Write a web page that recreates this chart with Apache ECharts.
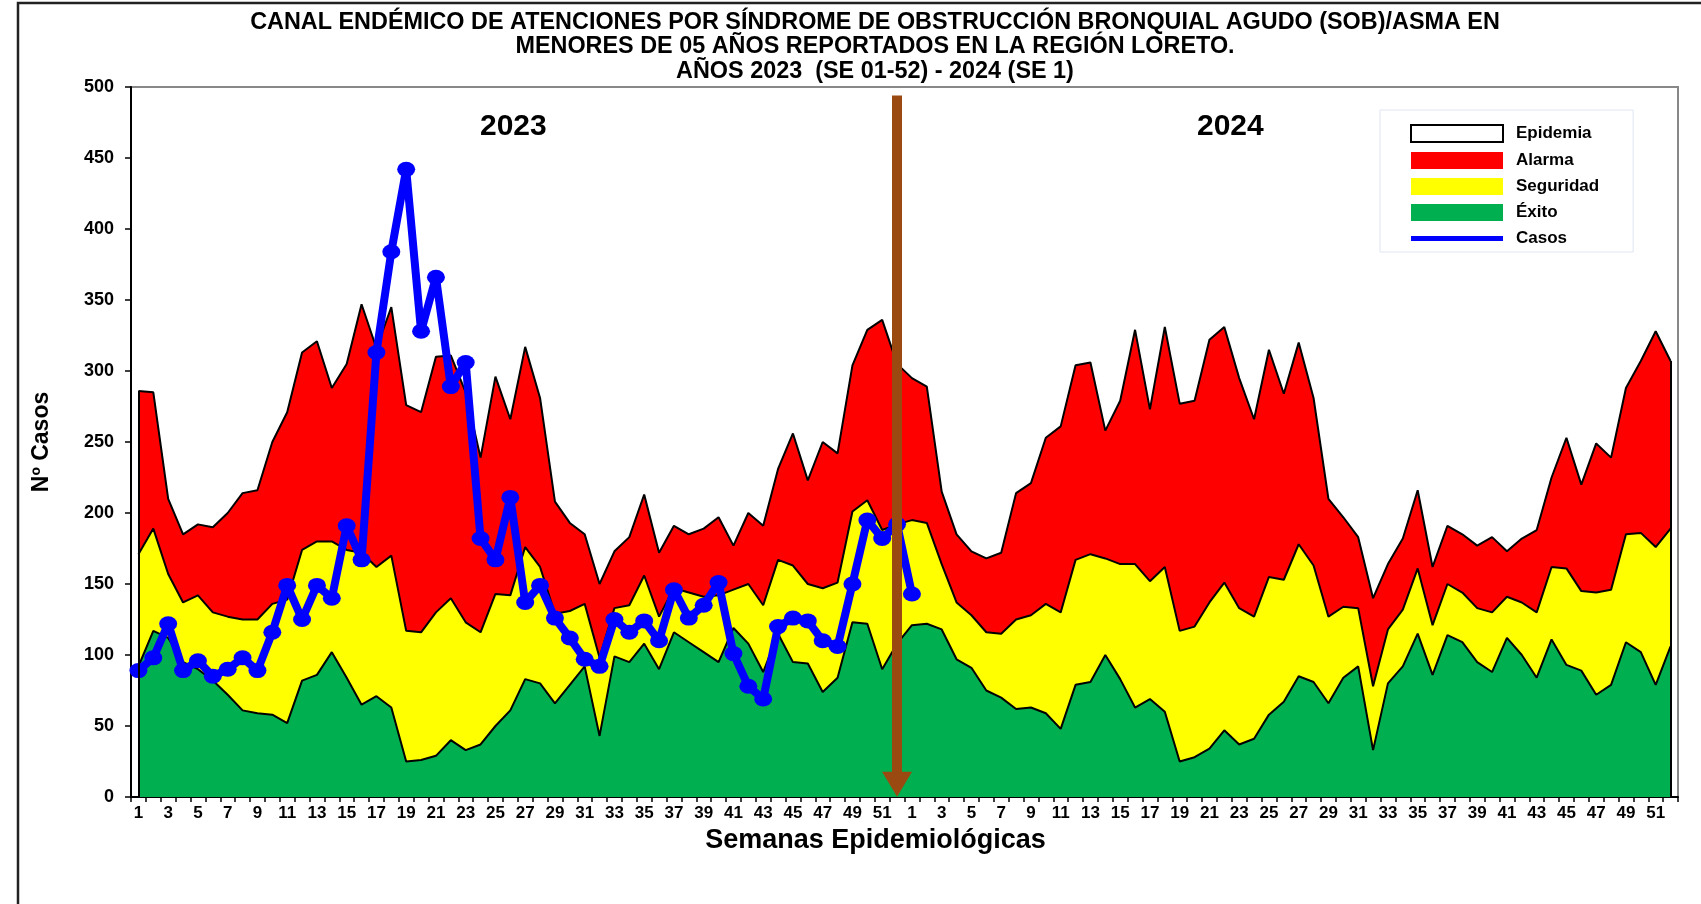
<!DOCTYPE html>
<html>
<head>
<meta charset="utf-8">
<script src="https://cdn.jsdelivr.net/npm/echarts@6/dist/echarts.min.js"></script>
<style>
  html, body { margin: 0; padding: 0; background: #fff; }
  #chart { width: 1701px; height: 904px; }
</style>
</head>
<body>
<div id="chart"></div>
<script>
// semanas epidemiologicas (se repiten para 2023 y 2024)
var semanas = [1, 2, 3, 4, 5, 6, 7, 8, 9, 10, 11, 12, 13, 14, 15, 16, 17, 18, 19, 20, 21, 22, 23, 24, 25, 26,
  27, 28, 29, 30, 31, 32, 33, 34, 35, 36, 37, 38, 39, 40, 41, 42, 43, 44, 45, 46, 47, 48, 49, 50, 51, 52];

// limite superior de cada zona (canal endemico)
var alarma2023 = [286, 285, 210, 185, 192, 190, 200, 214, 216, 250, 271, 313, 321, 288, 305, 347, 316, 345, 276, 271, 310, 311, 285, 239, 296, 266,
  317, 281, 208, 193, 185, 150, 173, 183, 213, 172, 191, 185, 189, 197, 177, 200, 191, 231, 256, 223, 250, 242, 304, 329, 336, 305];
var alarma2024 = [295, 289, 215, 185, 173, 168, 172, 214, 221, 253, 261, 304, 306, 258, 279, 329, 273, 331, 277, 279, 322, 331, 295, 266, 315, 284,
  320, 281, 210, 197, 183, 140, 164, 182, 216, 162, 191, 185, 177, 183, 173, 182, 188, 225, 253, 220, 249, 239, 288, 307, 328, 307];

var seguridad2023 = [171, 189, 157, 137, 142, 130, 127, 125, 125, 136, 139, 174, 180, 180, 174, 172, 162, 170, 117, 116, 130, 140, 123, 116, 143, 142,
  176, 162, 129, 131, 136, 98, 133, 135, 156, 127, 147, 144, 141, 142, 146, 150, 135, 167, 163, 150, 147, 151, 201, 209, 188, 192];
var seguridad2024 = [195, 193, 164, 137, 128, 116, 115, 125, 128, 136, 130, 167, 171, 168, 164, 164, 152, 162, 117, 120, 137, 151, 133, 127, 155, 153,
  178, 163, 127, 134, 133, 78, 118, 132, 161, 121, 150, 144, 133, 130, 141, 137, 130, 162, 161, 145, 144, 146, 185, 186, 176, 189];

var exito2023 = [92, 117, 112, 95, 90, 82, 72, 61, 59, 58, 52, 82, 86, 102, 84, 65, 71, 63, 25, 26, 29, 40, 33, 37, 50, 61,
  83, 80, 66, 79, 92, 43, 99, 95, 108, 90, 116, 109, 102, 95, 119, 108, 88, 115, 95, 94, 74, 84, 123, 122, 90, 108];
var exito2024 = [121, 122, 118, 97, 91, 75, 70, 62, 63, 59, 48, 79, 81, 100, 83, 63, 69, 60, 25, 28, 34, 47, 37, 41, 58, 67,
  85, 81, 66, 84, 92, 33, 80, 92, 115, 86, 114, 109, 95, 88, 112, 100, 84, 111, 93, 89, 72, 79, 109, 102, 79, 106];

// casos 2023 SE 1-52 y 2024 SE 1
var casos = [89, 98, 122, 89, 96, 85, 90, 98, 89, 116, 149, 125, 149, 140, 191, 167, 313, 384, 442, 328, 366, 289, 306, 182, 167, 211,
  137, 149, 126, 112, 97, 92, 125, 116, 124, 110, 146, 126, 135, 151, 101, 78, 69, 120, 126, 124, 110, 106, 150, 195, 182, 192, 143];

var yTicks = [0, 50, 100, 150, 200, 250, 300, 350, 400, 450, 500];

// flecha: semana 52 de 2023
var flechaSemana = 51;
var flechaTope = 494;
var flechaPunta = 9;

var categorias = semanas.concat(semanas).map(String);
var alarma = alarma2023.concat(alarma2024);
var seguridad = seguridad2023.concat(seguridad2024);
var exito = exito2023.concat(exito2024);
var ultimo = categorias.length - 1;

var fuente = "'Liberation Sans', Arial, sans-serif";

var chart = echarts.init(document.getElementById("chart"));

function area(name, data, color) {
  return {
    name: name,
    type: "line",
    data: data,
    showSymbol: false,
    symbol: "none",
    lineStyle: { color: "#000", width: 2 },
    itemStyle: { color: color },
    areaStyle: { color: color, opacity: 1 },
    emphasis: { disabled: true },
    silent: true
  };
}

var alarmaSerie = area("Alarma", alarma, "#FF0000");
// bordes verticales del canal
alarmaSerie.markLine = {
  silent: true,
  symbol: "none",
  label: { show: false },
  lineStyle: { color: "#000", width: 2, type: "solid" },
  data: [
    [{ coord: [0, 0] }, { coord: [0, alarma[0]] }],
    [{ coord: [ultimo, 0] }, { coord: [ultimo, alarma[ultimo]] }]
  ]
};

var option = {
  animation: false,
  backgroundColor: "#fff",
  title: {
    text: "CANAL ENDÉMICO DE ATENCIONES POR SÍNDROME DE OBSTRUCCIÓN BRONQUIAL AGUDO (SOB)/ASMA EN\nMENORES DE 05 AÑOS REPORTADOS EN LA REGIÓN LORETO.\nAÑOS 2023  (SE 01-52) - 2024 (SE 1)",
    left: 875,
    top: 10,
    textAlign: "center",
    padding: 0,
    textStyle: {
      fontFamily: fuente,
      fontWeight: "bold",
      fontSize: 23.4,
      lineHeight: 24.5,
      color: "#000"
    }
  },
  legend: {
    orient: "vertical",
    left: 1380,
    top: 110,
    padding: [14, 34, 5, 30],
    backgroundColor: "#fff",
    borderColor: "#dfe5f1",
    borderWidth: 1,
    itemWidth: 92,
    itemHeight: 17,
    itemGap: 9,
    selectedMode: false,
    textStyle: {
      fontFamily: fuente,
      fontWeight: "bold",
      fontSize: 17,
      lineHeight: 17,
      color: "#000",
      padding: [0, 0, 0, 8]
    },
    data: [
      { name: "Epidemia", icon: "rect", itemStyle: { color: "#fff", borderColor: "#000", borderWidth: 2 } },
      { name: "Alarma", icon: "rect", itemStyle: { color: "#FF0000", borderWidth: 0 } },
      { name: "Seguridad", icon: "rect", itemStyle: { color: "#FFFF00", borderWidth: 0 } },
      { name: "Éxito", icon: "rect", itemStyle: { color: "#00B050", borderWidth: 0 } },
      { name: "Casos", icon: "path://M0,0H92V5H0Z", itemStyle: { color: "#0000FF", borderWidth: 0 } }
    ]
  },
  grid: {
    left: 131,
    top: 87,
    right: 23,
    bottom: 107,
    show: true,
    backgroundColor: "#fff",
    borderColor: "#888",
    borderWidth: 2
  },
  xAxis: {
    type: "category",
    data: categorias,
    boundaryGap: true,
    name: "Semanas Epidemiológicas",
    nameLocation: "middle",
    nameGap: 28,
    nameTextStyle: { fontFamily: fuente, fontWeight: "bold", fontSize: 27, color: "#000", padding: [0, 58, 0, 0] },
    axisLine: { lineStyle: { color: "#000", width: 2 } },
    axisTick: { show: true, interval: 0, length: 5, lineStyle: { color: "#000", width: 1.5 } },
    axisLabel: { interval: 1, margin: 8, fontFamily: fuente, fontWeight: "bold", fontSize: 17, color: "#000" },
    splitLine: { show: false }
  },
  yAxis: {
    type: "value",
    min: yTicks[0],
    max: yTicks[yTicks.length - 1],
    interval: yTicks[1] - yTicks[0],
    name: "Nº Casos",
    nameLocation: "middle",
    nameGap: 78,
    nameTextStyle: { fontFamily: fuente, fontWeight: "bold", fontSize: 23, color: "#000" },
    axisLine: { show: true, lineStyle: { color: "#000", width: 2 } },
    axisTick: { show: true, length: 6, lineStyle: { color: "#000", width: 1.5 } },
    axisLabel: { margin: 17, fontFamily: fuente, fontWeight: "bold", fontSize: 18, color: "#000" },
    splitLine: { show: false }
  },
  series: [
    {
      name: "Epidemia",
      type: "line",
      data: [],
      itemStyle: { color: "#fff" }
    },
    alarmaSerie,
    area("Seguridad", seguridad, "#FFFF00"),
    area("Éxito", exito, "#00B050"),
    {
      name: "Casos",
      type: "line",
      data: casos,
      symbol: "circle",
      symbolSize: [18, 15],
      showSymbol: true,
      showAllSymbol: true,
      lineStyle: { color: "#0000FF", width: 8 },
      itemStyle: { color: "#0000FF", borderWidth: 0 },
      emphasis: { disabled: true },
      z: 3,
      // flecha de corte entre 2023 y 2024
      markLine: {
        silent: true,
        z: 6,
        symbol: ["none", "triangle"],
        symbolSize: [30, 25],
        label: { show: false },
        lineStyle: { color: "#9A4A10", width: 10, type: "solid", opacity: 1 },
        data: [
          [{ coord: [flechaSemana, flechaTope] }, { coord: [flechaSemana, flechaPunta], itemStyle: { color: "#9A4A10" } }]
        ]
      }
    }
  ],
  graphic: [
    {
      type: "text",
      left: 480,
      top: 112,
      style: { text: "2023", fontFamily: fuente, fontWeight: "bold", fontSize: 30, fill: "#000" }
    },
    {
      type: "text",
      left: 1197,
      top: 112,
      style: { text: "2024", fontFamily: fuente, fontWeight: "bold", fontSize: 30, fill: "#000" }
    },
    {
      type: "polyline",
      silent: true,
      shape: { points: [[18, 904], [18, 3], [1701, 3]] },
      style: { stroke: "#222", lineWidth: 2.5, fill: null }
    }
  ]
};

chart.setOption(option);
</script>
</body>
</html>
